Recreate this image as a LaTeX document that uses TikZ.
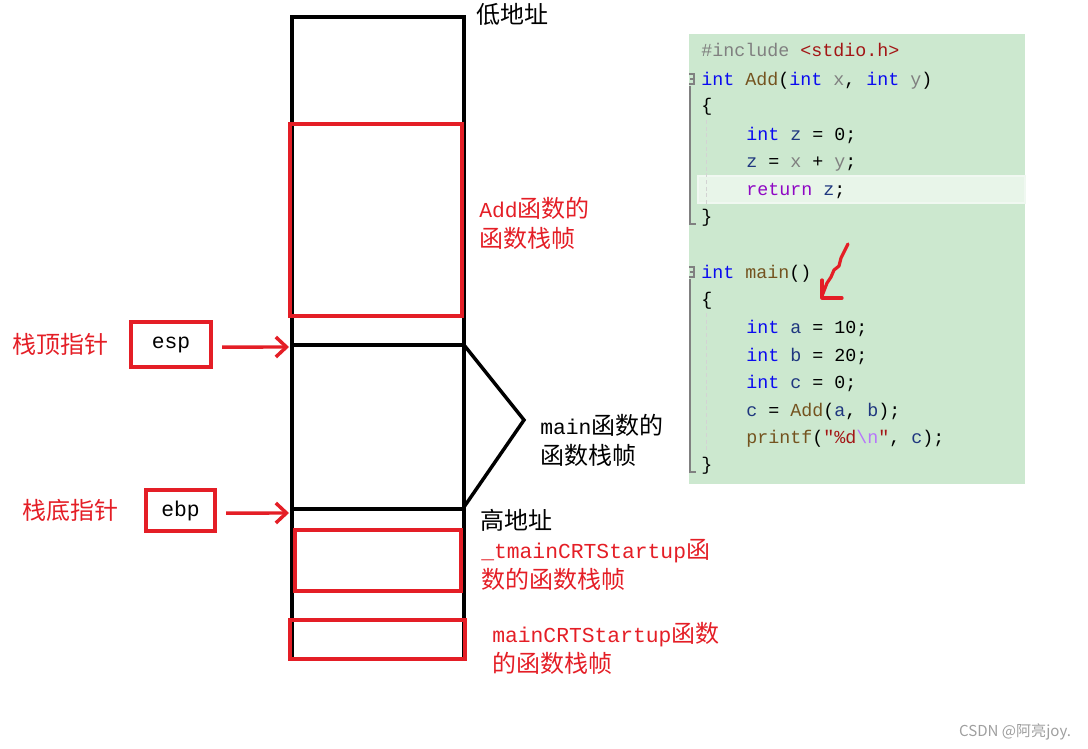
\documentclass[tikz,border=0pt]{standalone}
\usepackage{fontspec}
\setmainfont{Liberation Serif}
\newfontfamily\cjk{Noto Sans CJK SC}
\newfontfamily\codefont{Liberation Mono}
\usetikzlibrary{arrows.meta,positioning}

\definecolor{markred}{RGB}{228,30,38}
\definecolor{codebg}{RGB}{204,232,207}
\definecolor{kwblue}{RGB}{10,10,240}
\definecolor{fnbrown}{RGB}{116,83,31}
\definecolor{prmgray}{RGB}{128,128,128}
\definecolor{locblue}{RGB}{31,55,127}
\definecolor{strred}{RGB}{163,21,21}
\definecolor{retpurple}{RGB}{143,8,196}
\definecolor{escpurple}{RGB}{183,118,251}

\newcommand\latfont{\codefont\fontsize{16}{22.5}\selectfont}
\newcommand\lat[1]{{\latfont #1}}
\newcommand\kw[1]{\textcolor{kwblue}{#1}}
\newcommand\fn[1]{\textcolor{fnbrown}{#1}}
\newcommand\prm[1]{\textcolor{prmgray}{#1}}
\newcommand\loc[1]{\textcolor{locblue}{#1}}

\begin{document}
\begin{tikzpicture}[
x=0.75pt, y=-0.75pt,
node distance=16pt,
stackline/.style={line width=3.2pt, line cap=rect},
braceline/.style={line width=2.6pt},
redframe/.style={draw=markred, line width=3pt},
regbox/.style={draw=markred, line width=3pt, font=\latfont, inner sep=0},
ptrarrow/.style={draw=markred, line width=2.6pt, -{Straight Barb[length=8pt,width=15pt]}},
zhlabel/.style={font=\cjk\fontsize{18}{22.5}\selectfont, inner sep=0, align=left},
codeline/.style={anchor=base west, inner sep=0, font=\codefont\fontsize{13.75}{16}\selectfont},
foldmark/.style={draw=prmgray, line width=0.8pt}
]
\useasboundingbox (0,0) rectangle (1088,749);

% stack
\draw[stackline] (292,658) -- (292,17) -- (464,17) -- (464,658);
\draw[stackline] (292,345) -- (464,345);
\draw[stackline] (292,509) -- (464,509);
\draw[braceline] (464,345) -- (524,420) -- (464,507);
\draw[redframe] (290,124) rectangle (462,316);
\draw[redframe] (295,530) rectangle (461,591);
\draw[redframe] (290,620) rectangle (465,659);
\coordinate (sptop) at (289,347);
\coordinate (bptop) at (289,513);

\node[zhlabel] (low) at (512,14) {低地址};
\node[zhlabel] (high) at (516,520) {高地址};
\node[zhlabel, text=markred, anchor=west] (addlbl) at (479,223) {\lat{Add}函数的\\函数栈帧};
\node[zhlabel, anchor=west] (mainlbl) at (540,440) {\lat{main}函数的\\函数栈帧};
\node[zhlabel, text=markred, anchor=west] (tmainlbl) at (481,565) {\lat{\_tmainCRTStartup}函\\数的函数栈帧};
\node[zhlabel, text=markred, anchor=west] (crtlbl) at (492,648) {\lat{mainCRTStartup}函数\\的函数栈帧};

% registers
\node[regbox, minimum width=60pt, minimum height=33.75pt] (esp) at (171,344.5) {esp};
\node[regbox, minimum width=51.75pt, minimum height=30.75pt] (ebp) at (180.5,510.5) {ebp};
\node[zhlabel, text=markred, left=15pt of esp] (esplbl) {栈顶指针};
\node[zhlabel, text=markred, left=19pt of ebp] (ebplbl) {栈底指针};
\draw[ptrarrow] ([xshift=6.75pt,yshift=-1.9pt]esp.east) -- (sptop);
\draw[ptrarrow] ([xshift=6.75pt,yshift=-1.9pt]ebp.east) -- (bptop);

% code panel
\fill[codebg] (689,34) rectangle (1025,484);
\draw[fill=codebg!45!white, draw=white!70!codebg, line width=1pt] (698,176) rectangle (1025,203);
\draw[foldmark] (689,74) -- (694,74) -- (694,84) -- (689,84);
\draw[foldmark] (690,79) -- (693,79);
\draw[foldmark] (690,86) -- (690,224) -- (696,224);
\draw[foldmark] (689,267) -- (694,267) -- (694,277) -- (689,277);
\draw[foldmark] (690,272) -- (693,272);
\draw[foldmark] (690,279) -- (690,472) -- (696,472);
\draw[densely dashed, draw=prmgray!35] (706,120) -- (706,205);
\draw[densely dashed, draw=prmgray!35] (706,313) -- (706,452);

\node[codeline] (c1) at (701,57) {\prm{\#include} \textcolor{strred}{<stdio.h>}};
\node[codeline] (c2) at (701,85) {\kw{int} \fn{Add}(\kw{int} \prm{x}, \kw{int} \prm{y})};
\node[codeline] (c3) at (701,112) {\{};
\node[codeline] (c4) at (746,140) {\kw{int} \loc{z} = 0;};
\node[codeline] (c5) at (746,167) {\loc{z} = \prm{x} + \prm{y};};
\node[codeline] (c6) at (746,195) {\textcolor{retpurple}{return} \loc{z};};
\node[codeline] (c7) at (701,222) {\}};
\node[codeline] (c8) at (701,278) {\kw{int} \fn{main}()};
\node[codeline] (c9) at (701,305) {\{};
\node[codeline] (c10) at (746,333) {\kw{int} \loc{a} = 10;};
\node[codeline] (c11) at (746,361) {\kw{int} \loc{b} = 20;};
\node[codeline] (c12) at (746,388) {\kw{int} \loc{c} = 0;};
\node[codeline] (c13) at (746,416) {\loc{c} = \fn{Add}(\loc{a}, \loc{b});};
\node[codeline] (c14) at (746,443) {\fn{printf}(\textcolor{strred}{"\%d}\textcolor{escpurple}{\textbackslash n}\textcolor{strred}{"}, \loc{c});};
\node[codeline] (c15) at (701,470) {\}};

% hand drawn mark
\draw[markred, line width=2.4pt, line cap=round, line join=round]
  (848,244) -- (845,250) -- (841,258) -- (839,266) -- (834,270) -- (831,277) -- (827,283) -- (822,296);
\draw[markred, line width=2.4pt, line cap=round, line join=round]
  (822,280) -- (822,298) -- (842,298);

\node[font=\cjk\fontsize{11.3}{13}\selectfont, text=gray!75, inner sep=0] (mark) at (1015,732) {CSDN @阿亮joy.};
\end{tikzpicture}
\end{document}
